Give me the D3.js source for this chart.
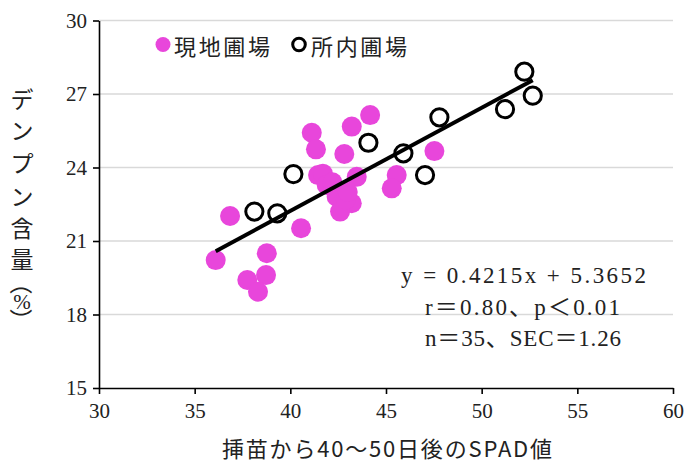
<!DOCTYPE html>
<html><head><meta charset="utf-8">
<script src="https://cdn.jsdelivr.net/npm/d3@7"></script>
<style>
html,body{margin:0;padding:0;background:#fff;}
svg{display:block;}
</style></head>
<body>
<svg id="c" width="686" height="464"></svg>
<script>
// ---- data ----
const xTicks = [30, 35, 40, 45, 50, 55, 60];
const yTicks = [15, 18, 21, 24, 27, 30];
const fieldX = [36.85, 36.10, 38.77, 37.75, 38.73, 38.31, 40.56, 41.12, 41.34, 43.21, 44.17, 42.82, 41.45, 41.70, 41.90, 43.47, 42.42, 43.21, 42.60, 45.56, 45.30, 47.53, 42.90, 43.00, 42.20];
const fieldY = [22.02, 20.22, 20.50, 19.41, 19.61, 18.93, 21.52, 25.42, 24.74, 25.67, 26.14, 24.55, 23.69, 23.75, 23.29, 23.62, 22.81, 22.54, 22.20, 23.69, 23.15, 24.67, 22.70, 23.00, 23.40];
const stationX = [38.12, 39.32, 40.16, 44.08, 45.91, 47.04, 47.79, 51.22, 52.23, 52.67];
const stationY = [22.20, 22.13, 23.73, 25.01, 24.58, 23.69, 26.05, 26.38, 27.91, 26.93];
const slope = 0.4215, intercept = 5.3652;
const seriesNames = ["現地圃場", "所内圃場"];
const statLines = ["y = 0.4215x + 5.3652", "r＝0.80、p＜0.01", "n＝35、SEC＝1.26"];
const xTitle = "挿苗から40～50日後のSPAD値";
const yTitle = "デンプン含量（%）";

// ---- chart ----
const pink = "#E846DB";
const svg = d3.select("#c");
const x = d3.scaleLinear().domain([30, 60]).range([99, 673]);
const y = d3.scaleLinear().domain([15, 30]).range([388, 20.5]);
const numFont = "'Liberation Serif', 'DejaVu Serif', serif";
const jpFont = "'Noto Sans CJK JP', 'Noto Sans', sans-serif";

// gridlines
svg.append("g").selectAll("line").data(yTicks.filter(d => d > 15)).join("line")
  .attr("x1", x(30)).attr("x2", x(60))
  .attr("y1", d => y(d)).attr("y2", d => y(d))
  .attr("stroke", "#d9d9d9").attr("stroke-width", 1.5);

// axes
const xAxis = svg.append("g").attr("transform", `translate(0,${y(15)})`)
  .call(d3.axisBottom(x).tickValues(xTicks).tickSize(6).tickPadding(9).tickSizeOuter(0));
const yAxis = svg.append("g").attr("transform", `translate(${x(30)},0)`)
  .call(d3.axisLeft(y).tickValues(yTicks).tickSize(6).tickPadding(6).tickSizeOuter(0));
[xAxis, yAxis].forEach(g => {
  g.select(".domain").attr("stroke", "#000").attr("stroke-width", 1.6);
  g.selectAll(".tick line").attr("stroke", "#000").attr("stroke-width", 1.6);
  g.selectAll(".tick text").attr("fill", "#222").style("font-family", numFont).style("font-size", "21px");
});

// series
const field = fieldX.map((v, i) => ({x: v, y: fieldY[i]}));
const station = stationX.map((v, i) => ({x: v, y: stationY[i]}));
svg.append("g").selectAll("circle").data(field).join("circle")
  .attr("cx", d => x(d.x)).attr("cy", d => y(d.y)).attr("r", 10)
  .attr("fill", pink);
svg.append("g").selectAll("circle").data(station).join("circle")
  .attr("cx", d => x(d.x)).attr("cy", d => y(d.y)).attr("r", 8.6)
  .attr("fill", "#fff").attr("stroke", "#000").attr("stroke-width", 3);

// regression line over data range
const xr = d3.extent(fieldX.concat(stationX));
svg.append("line")
  .attr("x1", x(xr[0])).attr("y1", y(slope * xr[0] + intercept))
  .attr("x2", x(xr[1])).attr("y2", y(slope * xr[1] + intercept))
  .attr("stroke", "#000").attr("stroke-width", 4);

// legend
const leg = svg.append("g");
leg.append("circle").attr("cx", 163).attr("cy", 44.5).attr("r", 7.5).attr("fill", pink);
leg.append("text").attr("x", 174).attr("y", 44.5).attr("dominant-baseline", "central")
  .style("font-family", jpFont).style("font-size", "22px").attr("fill", "#222")
  .attr("textLength", 96).text(seriesNames[0]);
leg.append("circle").attr("cx", 299).attr("cy", 44.5).attr("r", 6.3)
  .attr("fill", "#fff").attr("stroke", "#000").attr("stroke-width", 3);
leg.append("text").attr("x", 311).attr("y", 44.5).attr("dominant-baseline", "central")
  .style("font-family", jpFont).style("font-size", "22px").attr("fill", "#222")
  .attr("textLength", 96).text(seriesNames[1]);

// stats annotation
const statPos = [[401, 275, 245], [425, 307, 195], [425, 338, 196]];
statLines.forEach((t, i) => {
  svg.append("text").attr("x", statPos[i][0]).attr("y", statPos[i][1])
    .attr("dominant-baseline", "central")
    .attr("textLength", statPos[i][2]).attr("lengthAdjust", "spacing")
    .style("font-family", numFont + ", 'Noto Sans CJK JP'").style("font-size", "23px")
    .attr("fill", "#222").text(t);
});

// x title
svg.append("text").attr("x", 387).attr("y", 447).attr("text-anchor", "middle")
  .attr("dominant-baseline", "central")
  .style("font-family", jpFont).style("font-size", "22px")
  .attr("fill", "#222").attr("textLength", 330).text(xTitle);

// y title: vertical, one glyph per row; parentheses rotated to vertical form
const yChars = Array.from(yTitle);
const yPos = [98, 129, 162, 195, 227, 258, 283, 302, 320];
const yt = svg.append("g");
yChars.forEach((ch, i) => {
  const t = yt.append("text").attr("x", 0).attr("y", 0)
    .attr("text-anchor", "middle").attr("dominant-baseline", "central")
    .style("font-family", ch === "%" ? numFont : jpFont)
    .style("font-size", ch === "%" ? "21px" : "23px")
    .attr("fill", "#222").text(ch);
  const rot = (ch === "（" || ch === "）") ? " rotate(90)" : "";
  t.attr("transform", `translate(22,${yPos[i]})${rot}`);
});
</script>
</body></html>
